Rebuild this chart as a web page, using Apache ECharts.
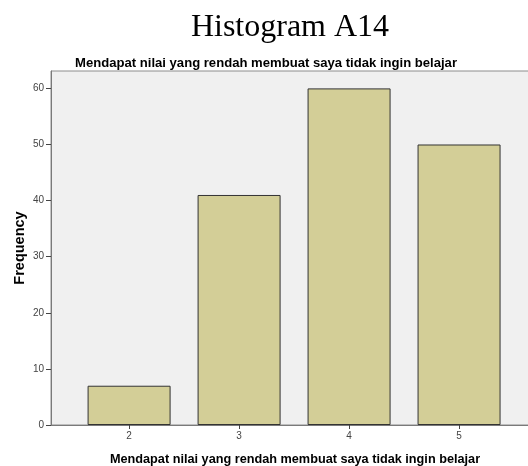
<!DOCTYPE html>
<html><head><meta charset="utf-8">
<script src="https://cdn.jsdelivr.net/npm/echarts@6/dist/echarts.min.js"></script>
<style>html,body{margin:0;padding:0;background:#fff}#c{width:528px;height:466px}</style>
</head><body><div id="c"></div>
<script>
const categories = [2, 3, 4, 5];
const frequencies = [7, 41, 60, 50];
const yTicks = [0, 10, 20, 30, 40, 50, 60];
const titleText = 'Histogram A14';
const subtitleText = 'Mendapat nilai yang rendah membuat saya tidak ingin belajar';
const xName = 'Mendapat nilai yang rendah membuat saya tidak ingin belajar';
const yName = 'Frequency';

const chart = echarts.init(document.getElementById('c'), null, {renderer: 'canvas'});
chart.setOption({
  animation: false,
  backgroundColor: '#fff',
  title: [
    {text: titleText, left: 290, top: 12, padding: 0, textAlign: 'center',
     textStyle: {fontFamily: 'Liberation Serif', fontWeight: 'normal', fontSize: 32, color: '#000'}},
    {text: subtitleText, left: 266, top: 57, padding: 0, textAlign: 'center',
     textStyle: {fontFamily: 'Liberation Sans', fontWeight: 'bold', fontSize: 13.1, color: '#000'}},
    {text: xName, left: 295, top: 453, padding: 0, textAlign: 'center',
     textStyle: {fontFamily: 'Liberation Sans', fontWeight: 'bold', fontSize: 12.7, color: '#000'}}
  ],
  grid: {left: 51, top: 71, right: -2, bottom: 41, show: true, backgroundColor: '#f0f0f0',
         borderColor: '#8c8c8c', borderWidth: 1, outerBoundsMode: 'none', containLabel: false},
  xAxis: {
    type: 'value', min: 1.29, max: 5.645, splitLine: {show: false},
    axisLine: {show: true, onZero: false, lineStyle: {color: '#7a7a7a', width: 1}},
    axisTick: {show: true, customValues: categories, length: 4, lineStyle: {color: '#444'}},
    axisLabel: {customValues: categories, fontFamily: 'Liberation Sans', fontSize: 10, color: '#444', margin: 6}
  },
  yAxis: {
    type: 'value', min: 0, max: 63.1, interval: 10,
    name: yName, nameLocation: 'middle', nameGap: 24, nameRotate: 90, nameMoveOverlap: false,
    nameTextStyle: {fontFamily: 'Liberation Sans', fontWeight: 'bold', fontSize: 14.5, color: '#000'},
    splitLine: {show: false},
    axisLine: {show: true, lineStyle: {color: '#7a7a7a', width: 1}},
    axisTick: {show: true, customValues: yTicks, length: 5, lineStyle: {color: '#444'}},
    axisLabel: {customValues: yTicks, fontFamily: 'Liberation Sans', fontSize: 10, color: '#444', margin: 7}
  },
  series: [{
    type: 'bar', barWidth: 83,
    data: categories.map((c, i) => [c, frequencies[i]]),
    itemStyle: {color: '#d3ce97', borderColor: '#333', borderWidth: 1}
  }]
});
</script></body></html>
